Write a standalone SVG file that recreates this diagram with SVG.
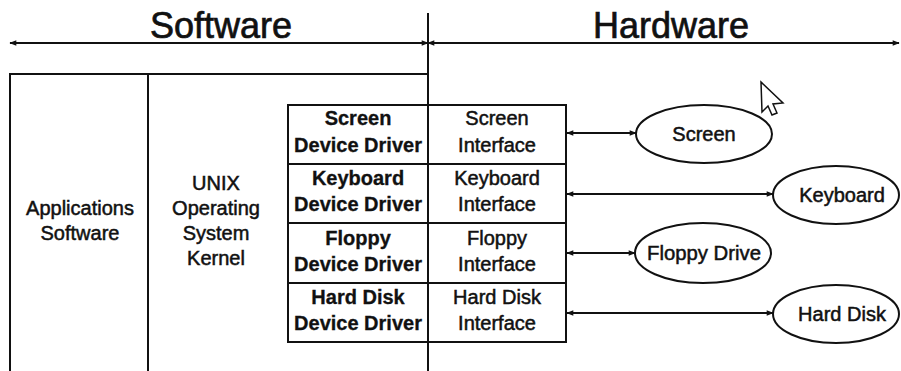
<svg xmlns="http://www.w3.org/2000/svg" width="901" height="371" viewBox="0 0 901 371">
<defs>
<marker id="ah" viewBox="0 0 10 10" refX="9" refY="5" markerWidth="9" markerHeight="7" markerUnits="userSpaceOnUse" orient="auto-start-reverse">
<path d="M0,1 L10,5 L0,9 Z" fill="#111"/>
</marker>
<style>
.ln{stroke:#111;stroke-width:2;fill:none}
.t{font-family:"Liberation Sans",Arial,sans-serif;font-size:20px;fill:#111;stroke:#111;stroke-width:0.5;text-anchor:middle}
.b{font-weight:bold;stroke-width:0.3}
.title{font-family:"Liberation Sans",Arial,sans-serif;font-size:36px;fill:#111;stroke:#111;stroke-width:0.7;text-anchor:middle}
.con{stroke:#111;stroke-width:2;fill:none;marker-start:url(#ah);marker-end:url(#ah)}
</style>
</defs>
<rect width="901" height="371" fill="#fff"/>

<g id="titles">
<text class="title" x="221" y="38">Software</text>
<text class="title" x="671" y="38">Hardware</text>
</g>

<g id="divider">
<line class="ln" x1="428" y1="13" x2="428" y2="371"/>
</g>

<g id="software-box">
<polyline class="ln" points="10,371 10,74 428,74"/>
<line class="ln" x1="148" y1="74" x2="148" y2="371"/>
</g>

<g id="applications">
<text class="t" x="80" y="215">Applications</text>
<text class="t" x="80" y="240">Software</text>
</g>

<g id="kernel">
<text class="t" x="216" y="190">UNIX</text>
<text class="t" x="216" y="215">Operating</text>
<text class="t" x="216" y="240">System</text>
<text class="t" x="216" y="265">Kernel</text>
</g>

<g id="driver-table">
<rect class="ln" x="288" y="105" width="278" height="237"/>
<line class="ln" x1="288" y1="164" x2="566" y2="164"/>
<line class="ln" x1="288" y1="223" x2="566" y2="223"/>
<line class="ln" x1="288" y1="283" x2="566" y2="283"/>
</g>

<g id="screen-driver">
<text class="t b" x="358" y="125">Screen</text>
<text class="t b" x="358" y="152">Device Driver</text>
</g>
<g id="keyboard-driver">
<text class="t b" x="358" y="185">Keyboard</text>
<text class="t b" x="358" y="211">Device Driver</text>
</g>
<g id="floppy-driver">
<text class="t b" x="358" y="245">Floppy</text>
<text class="t b" x="358" y="271">Device Driver</text>
</g>
<g id="harddisk-driver">
<text class="t b" x="358" y="304">Hard Disk</text>
<text class="t b" x="358" y="330">Device Driver</text>
</g>

<g id="screen-interface">
<text class="t" x="497" y="125">Screen</text>
<text class="t" x="497" y="152">Interface</text>
</g>
<g id="keyboard-interface">
<text class="t" x="497" y="185">Keyboard</text>
<text class="t" x="497" y="211">Interface</text>
</g>
<g id="floppy-interface">
<text class="t" x="497" y="245">Floppy</text>
<text class="t" x="497" y="271">Interface</text>
</g>
<g id="harddisk-interface">
<text class="t" x="497" y="304">Hard Disk</text>
<text class="t" x="497" y="330">Interface</text>
</g>

<g id="screen">
<ellipse class="ln" cx="704" cy="134" rx="68" ry="29"/>
<text class="t" x="704" y="141">Screen</text>
</g>
<g id="keyboard">
<ellipse class="ln" cx="836" cy="195" rx="63" ry="29"/>
<text class="t" x="842" y="202">Keyboard</text>
</g>
<g id="floppy-drive">
<ellipse class="ln" cx="703" cy="253" rx="68" ry="30"/>
<text class="t" x="704" y="260" textLength="114" lengthAdjust="spacingAndGlyphs">Floppy Drive</text>
</g>
<g id="hard-disk">
<ellipse class="ln" cx="836" cy="314" rx="63" ry="29"/>
<text class="t" x="842" y="321">Hard Disk</text>
</g>

<g id="connectors">
<line class="con" x1="10" y1="43" x2="428" y2="43"/>
<line class="con" x1="428" y1="43" x2="899" y2="43"/>
<line class="con" x1="567" y1="133" x2="636" y2="133"/>
<line class="con" x1="567" y1="194" x2="773" y2="194"/>
<line class="con" x1="567" y1="253" x2="635" y2="253"/>
<line class="con" x1="567" y1="313" x2="773" y2="313"/>
</g>

<g id="cursor">
<path d="M761,82 L762,112 L768,106 L772,115 L777,113 L773,104 L783,103 Z" fill="#fff" stroke="#111" stroke-width="1.5" stroke-linejoin="miter"/>
</g>
</svg>
